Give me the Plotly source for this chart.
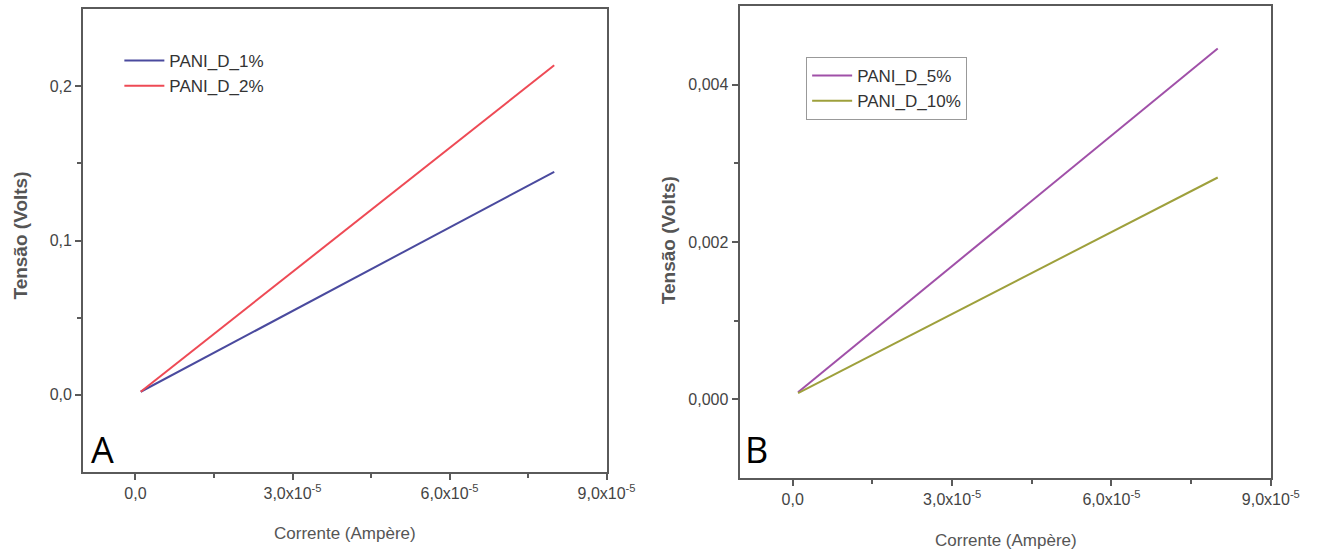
import plotly.graph_objects as go

# Current (A) and voltage (V) end points of each linear I-V sweep
corrente = [1.0e-6, 8.0e-5]

pani_1 = [0.002, 0.1445]
pani_2 = [0.002, 0.2135]
pani_5 = [0.00009, 0.00446]
pani_10 = [0.00008, 0.00282]

x_ticks = [0.0, 3.0e-5, 6.0e-5, 9.0e-5]
x_ticktext = ["0,0", "3,0x10<sup>-5</sup>", "6,0x10<sup>-5</sup>", "9,0x10<sup>-5</sup>"]
ya_ticks = [0.0, 0.1, 0.2]
ya_ticktext = ["0,0", "0,1", "0,2"]
yb_ticks = [0.0, 0.002, 0.004]
yb_ticktext = ["0,000", "0,002", "0,004"]

W, H = 1338, 552


def px(x):
    return x / W


def py(y):
    return 1 - y / H


AXIS_COLOR = "#5a5a5a"
TICK_FONT = dict(family="Liberation Sans, Arial", size=16, color="#444444")

fig = go.Figure()

fig.add_trace(go.Scatter(x=corrente, y=pani_1, mode="lines", name="PANI_D_1%",
                         line=dict(color="#4a4a9e", width=2), xaxis="x", yaxis="y", legend="legend"))
fig.add_trace(go.Scatter(x=corrente, y=pani_2, mode="lines", name="PANI_D_2%",
                         line=dict(color="#ee4a55", width=2), xaxis="x", yaxis="y", legend="legend"))
fig.add_trace(go.Scatter(x=corrente, y=pani_5, mode="lines", name="PANI_D_5%",
                         line=dict(color="#a050a8", width=2), xaxis="x2", yaxis="y2", legend="legend2"))
fig.add_trace(go.Scatter(x=corrente, y=pani_10, mode="lines", name="PANI_D_10%",
                         line=dict(color="#9ea03c", width=2), xaxis="x2", yaxis="y2", legend="legend2"))


def xaxis(domain, anchor):
    return dict(domain=domain, anchor=anchor, range=[-1.0e-5, 9.0e-5],
                tickvals=x_ticks, ticktext=x_ticktext, tickfont=TICK_FONT,
                ticks="outside", ticklen=6, tickwidth=2, tickcolor=AXIS_COLOR,
                minor=dict(tickvals=[1.5e-5, 4.5e-5, 7.5e-5], ticks="outside",
                           ticklen=4, tickwidth=2, tickcolor=AXIS_COLOR),
                showline=True, linecolor=AXIS_COLOR, linewidth=2, mirror=True,
                showgrid=False, zeroline=False)


def yaxis(domain, anchor, rng, vals, text, minors):
    return dict(domain=domain, anchor=anchor, range=rng,
                tickvals=vals, ticktext=text, tickfont=TICK_FONT,
                ticks="outside", ticklen=6, tickwidth=2, tickcolor=AXIS_COLOR,
                minor=dict(tickvals=minors, ticks="outside",
                           ticklen=4, tickwidth=2, tickcolor=AXIS_COLOR),
                showline=True, linecolor=AXIS_COLOR, linewidth=2, mirror=True,
                showgrid=False, zeroline=False)


legend_font = dict(family="Liberation Sans, Arial", size=17, color="#333333")

fig.update_layout(
    width=W, height=H,
    margin=dict(l=0, r=0, t=0, b=0),
    paper_bgcolor="white", plot_bgcolor="white",
    xaxis=xaxis([px(85), px(620)], "y"),
    yaxis=yaxis([py(472), py(9)], "x", [-0.05, 0.25], ya_ticks, ya_ticktext, [0.05, 0.15]),
    xaxis2=xaxis([px(756), px(1299)], "y2"),
    yaxis2=yaxis([py(478), py(6)], "x2", [-0.001, 0.005], yb_ticks, yb_ticktext, [0.001, 0.003]),
    legend=dict(x=px(122), y=py(43), xanchor="left", yanchor="top",
                font=legend_font, bgcolor="rgba(0,0,0,0)", borderwidth=0,
                tracegroupgap=0, itemwidth=40),
    legend2=dict(x=px(824), y=py(57), xanchor="left", yanchor="top",
                 font=legend_font, bgcolor="white", bordercolor="#999999", borderwidth=1,
                 tracegroupgap=0, itemwidth=40),
    showlegend=True,
)

title_font = dict(family="Liberation Sans, Arial", size=17, color="#555555")
ytitle_font = dict(family="Liberation Sans, Arial", size=19, color="#555555")
label_font = dict(family="Open Sans, Liberation Sans", size=36, color="black")

annotations = [
    dict(text="<b>Tensão (Volts)</b>", x=px(20), y=py(236), textangle=-90, font=ytitle_font),
    dict(text="<b>Tensão (Volts)</b>", x=px(684), y=py(240), textangle=-90, font=ytitle_font),
    dict(text="Corrente (Ampère)", x=px(353), y=py(533), font=title_font),
    dict(text="Corrente (Ampère)", x=px(1028), y=py(540), font=title_font),
    dict(text="A", x=px(105), y=py(449), font=label_font),
    dict(text="B", x=px(773), y=py(449), font=label_font),
]
for a in annotations:
    a.update(xref="paper", yref="paper", showarrow=False, xanchor="center", yanchor="middle")
    fig.add_annotation(**a)

fig.write_html("out.html")
